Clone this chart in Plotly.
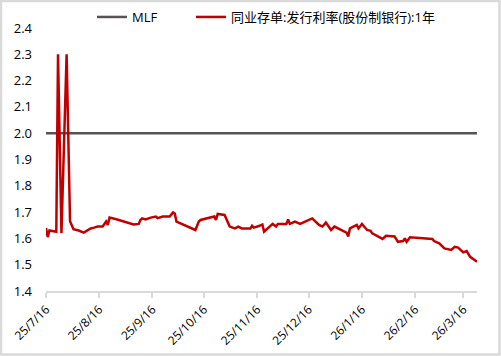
import plotly.graph_objects as go

# ---- data ----
ncd_dates = [
    "2025-07-16", "2025-07-17", "2025-07-18", "2025-07-22", "2025-07-23", "2025-07-25",
    "2025-07-28", "2025-07-30", "2025-08-01", "2025-08-04", "2025-08-07", "2025-08-11",
    "2025-08-13", "2025-08-15", "2025-08-18", "2025-08-20", "2025-08-21", "2025-08-22",
    "2025-08-26", "2025-09-05", "2025-09-08", "2025-09-09", "2025-09-10", "2025-09-12",
    "2025-09-15", "2025-09-18", "2025-09-19", "2025-09-22", "2025-09-26", "2025-09-28",
    "2025-09-29", "2025-09-30", "2025-10-11", "2025-10-13", "2025-10-14", "2025-10-17",
    "2025-10-22", "2025-10-23", "2025-10-24", "2025-10-28", "2025-10-31", "2025-11-03",
    "2025-11-05", "2025-11-07", "2025-11-12", "2025-11-13", "2025-11-14", "2025-11-17",
    "2025-11-19", "2025-11-20", "2025-11-24", "2025-11-25", "2025-11-27", "2025-11-28",
    "2025-12-03", "2025-12-04", "2025-12-05", "2025-12-08", "2025-12-11", "2025-12-15",
    "2025-12-18", "2025-12-22", "2025-12-24", "2025-12-26", "2025-12-29", "2025-12-31",
    "2026-01-07", "2026-01-08", "2026-01-09", "2026-01-13", "2026-01-14", "2026-01-16",
    "2026-01-19", "2026-01-21", "2026-01-22", "2026-01-28", "2026-01-30", "2026-02-04",
    "2026-02-06", "2026-02-09", "2026-02-10", "2026-02-11", "2026-02-13", "2026-02-26",
    "2026-02-27", "2026-03-02", "2026-03-05", "2026-03-09", "2026-03-11", "2026-03-13",
    "2026-03-16", "2026-03-18", "2026-03-20", "2026-03-24",
]
ncd_values = [
    1.640, 1.605, 1.630, 1.625, 2.300, 1.620,
    2.300, 1.665, 1.635, 1.630, 1.622, 1.638,
    1.641, 1.645, 1.645, 1.664, 1.651, 1.679,
    1.673, 1.653, 1.655, 1.670, 1.676, 1.672,
    1.679, 1.683, 1.677, 1.683, 1.683, 1.699,
    1.695, 1.664, 1.632, 1.664, 1.670, 1.674,
    1.683, 1.670, 1.693, 1.689, 1.645, 1.638,
    1.645, 1.638, 1.638, 1.648, 1.641, 1.647,
    1.653, 1.626, 1.651, 1.655, 1.645, 1.655,
    1.655, 1.672, 1.655, 1.664, 1.655, 1.667,
    1.676, 1.651, 1.645, 1.660, 1.632, 1.645,
    1.622, 1.607, 1.638, 1.651, 1.638, 1.655,
    1.632, 1.629, 1.619, 1.598, 1.610, 1.607,
    1.587, 1.590, 1.600, 1.587, 1.604, 1.598,
    1.590, 1.581, 1.562, 1.556, 1.568, 1.565,
    1.547, 1.552, 1.530, 1.511,
]
mlf_dates = ["2025-07-16", "2026-03-24"]
mlf_values = [2.0, 2.0]

x_tick_vals = ["2025-07-16", "2025-08-16", "2025-09-16", "2025-10-16", "2025-11-16",
               "2025-12-16", "2026-01-16", "2026-02-16", "2026-03-16"]
x_tick_text = ["25/7/16", "25/8/16", "25/9/16", "25/10/16", "25/11/16",
               "25/12/16", "26/1/16", "26/2/16", "26/3/16"]
y_tick_vals = [1.4, 1.5, 1.6, 1.7, 1.8, 1.9, 2.0, 2.1, 2.2, 2.3, 2.4]

FONT = "Open Sans, Noto Sans CJK SC, sans-serif"

fig = go.Figure()
fig.add_trace(go.Scatter(x=mlf_dates, y=mlf_values, mode="lines", name="MLF",
                         legend="legend",
                         line=dict(color="#575253", width=2.5)))
fig.add_trace(go.Scatter(x=ncd_dates, y=ncd_values, mode="lines",
                         name="同业存单:发行利率(股份制银行):1年",
                         legend="legend2",
                         line=dict(color="#c00000", width=2.5)))

W, H = 501, 356
L, R, T, B = 46, 24, 28, 65
pw, ph = W - L - R, H - T - B

leg_common = dict(orientation="h", xanchor="left", yanchor="top",
                  y=1 + (T - 2) / ph,
                  font=dict(family=FONT, size=13, color="#000000"),
                  bgcolor="rgba(0,0,0,0)")

fig.update_layout(
    width=W, height=H,
    margin=dict(l=L, r=R, t=T, b=B, pad=0, autoexpand=False),
    paper_bgcolor="white", plot_bgcolor="white",
    font=dict(family=FONT, size=13, color="#000000"),
    showlegend=True,
    legend=dict(x=(92 - L) / pw, **leg_common),
    legend2=dict(x=(191 - L) / pw, **leg_common),
    xaxis=dict(type="date", range=["2025-07-16", "2026-03-24"],
               tickvals=x_tick_vals, ticktext=x_tick_text, tickangle=-45,
               showgrid=False, zeroline=False, automargin=False,
               showline=True, linecolor="#d9d9d9", linewidth=1.5,
               ticks="outside", ticklen=5, tickcolor="#d9d9d9", tickwidth=1.5,
               tickfont=dict(family=FONT, size=12, color="#000000")),
    yaxis=dict(range=[1.4, 2.4], tickvals=y_tick_vals, tickformat=".1f",
               showgrid=False, zeroline=False, showline=False, ticks="",
               ticklabelstandoff=13, automargin=False,
               tickfont=dict(family=FONT, size=13, color="#000000")),
    shapes=[dict(type="rect", xref="paper", yref="paper",
                 x0=(-L + 1) / pw, x1=1 + (R - 1.5) / pw,
                 y0=(-B + 1.5) / ph, y1=1 + (T - 1) / ph,
                 line=dict(color="#d9d9d9", width=2.5), layer="below")],
)

fig.write_html("out.html")
